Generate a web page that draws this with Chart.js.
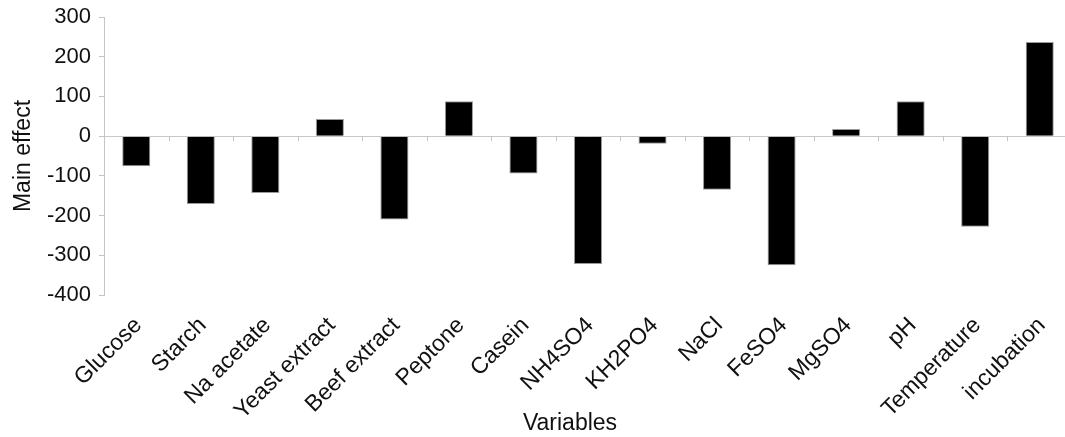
<!DOCTYPE html>
<html>
<head>
<meta charset="utf-8">
<script src="https://cdn.jsdelivr.net/npm/chart.js@4/dist/chart.umd.min.js"></script>
<style>
  html, body { margin: 0; padding: 0; background: #fff; overflow: hidden; }
  #wrap { width: 1072px; height: 437px; position: relative; }
</style>
</head>
<body>
<div id="wrap"><canvas id="c"></canvas></div>
<script>
const categories = ['Glucose', 'Starch', 'Na acetate', 'Yeast extract', 'Beef extract', 'Peptone', 'Casein', 'NH4SO4', 'KH2PO4', 'NaCl', 'FeSO4', 'MgSO4', 'pH', 'Temperature', 'incubation'];
const mainEffect = [-76, -171, -143, 43, -210, 88, -94, -322, -19, -135, -325, 18, 88, -228, 237];
const yTicks = [300, 200, 100, 0, -100, -200, -300, -400];
const yTitle = 'Main effect';
const xTitle = 'Variables';

const FONT = 'Liberation Sans, Arial, sans-serif';

const extras = {
  id: 'extras',
  afterDatasetsDraw(chart) {
    const x = chart.scales.x, y = chart.scales.y;
    const ctx = chart.ctx;
    const y0 = y.getPixelForValue(0);
    ctx.save();
    ctx.strokeStyle = '#c4c4c4';
    ctx.lineWidth = 1;
    ctx.beginPath();
    for (let i = 0; i < categories.length - 1; i++) {
      const bx = Math.round((x.getPixelForValue(i) + x.getPixelForValue(i + 1)) / 2) + 0.5;
      ctx.moveTo(bx, y0);
      ctx.lineTo(bx, y0 + 5);
    }
    ctx.stroke();
    // x-axis title, positioned as in the original figure
    const a = chart.chartArea;
    ctx.fillStyle = '#111';
    ctx.font = '23px ' + FONT;
    ctx.textAlign = 'center';
    ctx.textBaseline = 'middle';
    ctx.fillText(xTitle, a.left + (a.right - a.left) * 0.4814, chart.height - 13);
    ctx.restore();
  }
};

new Chart(document.getElementById('c'), {
  type: 'bar',
  data: {
    labels: categories,
    datasets: [{
      data: mainEffect,
      backgroundColor: '#000000',
      borderColor: '#9a9a9a',
      borderWidth: 1,
      categoryPercentage: 1.0,
      barPercentage: 0.435
    }]
  },
  options: {
    responsive: true,
    maintainAspectRatio: false,
    animation: false,
    layout: { padding: { top: 17, right: 0, bottom: 0, left: 0 } },
    plugins: { legend: { display: false }, tooltip: { enabled: false } },
    scales: {
      x: {
        afterFit(axis) { axis.height = 142; axis.paddingLeft = 0; axis.paddingRight = 0; },
        grid: { display: false },
        border: { display: false },
        ticks: {
          color: '#111',
          font: { family: FONT, size: 23 },
          maxRotation: 45, minRotation: 45, padding: 9, labelOffset: 2, autoSkip: false
        },
        title: { display: false }
      },
      y: {
        min: -400, max: 300,
        afterBuildTicks(axis) { axis.ticks = yTicks.map(v => ({ value: v })); },
        afterFit(axis) { axis.width = 104; axis.paddingTop = 0; axis.paddingBottom = 0; },
        grid: {
          drawOnChartArea: true,
          color: (c) => (c.tick && c.tick.value === 0 ? '#c8c8c8' : 'rgba(0,0,0,0)'),
          tickColor: '#c4c4c4',
          tickLength: 5
        },
        border: { display: true, color: '#c4c4c4', width: 1 },
        ticks: {
          color: '#111',
          font: { family: FONT, size: 22 },
          padding: 8
        },
        title: {
          display: true, text: yTitle, color: '#111',
          font: { family: FONT, size: 23 },
          padding: { top: 10, bottom: 0 }
        }
      }
    }
  },
  plugins: [extras]
});
</script>
</body>
</html>
